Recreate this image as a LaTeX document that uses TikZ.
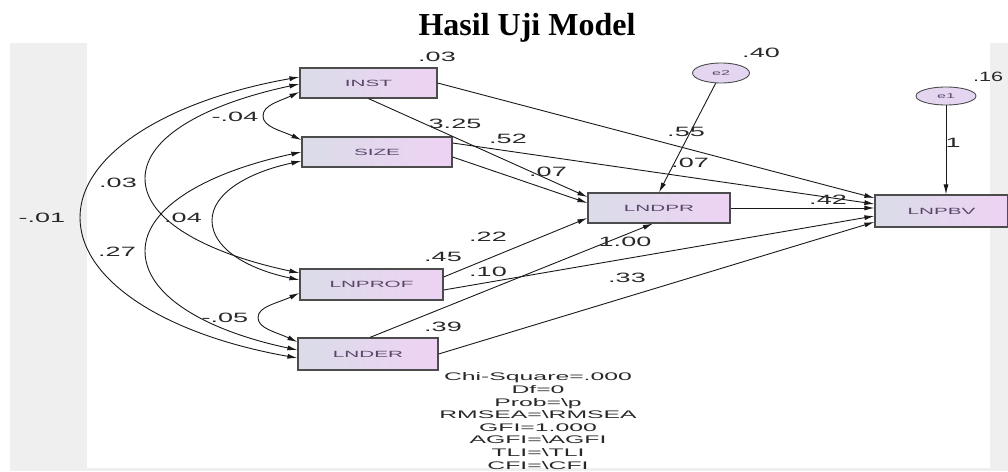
\documentclass[tikz,border=0pt]{standalone}
\usepackage{fontspec}
\setmainfont{Liberation Serif}
\newfontfamily\amosfont{Liberation Sans}
\usepackage{graphicx}
\usetikzlibrary{arrows.meta,calc,shapes.geometric}

\definecolor{boxleft}{RGB}{218,220,232}
\definecolor{boxright}{RGB}{238,210,244}
\definecolor{errfill}{RGB}{228,214,240}
\definecolor{panel}{RGB}{239,239,239}
\definecolor{numgray}{RGB}{40,40,40}
\definecolor{vartext}{RGB}{90,70,105}

\newcommand{\wide}[2][2.0]{\scalebox{#1}[1]{#2}}

\tikzset{
  var/.style={draw=black!70, line width=1.2pt, left color=boxleft, right color=boxright,
    minimum height=30pt, inner sep=0pt, text=vartext, font=\amosfont\fontsize{9}{9}\selectfont},
  err/.style={ellipse, draw=black!70, line width=0.9pt, fill=errfill, minimum width=57pt,
    minimum height=20pt, inner sep=0pt, text=vartext, font=\amosfont\fontsize{7}{7}\selectfont},
  reg/.style={draw=black!90, line width=0.9pt, -{Latex[length=10pt,width=5pt]}},
  cov/.style={draw=black!90, line width=0.9pt, {Latex[length=10pt,width=5pt]}-{Latex[length=10pt,width=5pt]}},
  est/.style={text=numgray, inner sep=0pt, font=\amosfont\fontsize{13.5}{13.5}\selectfont},
}

\begin{document}
\begin{tikzpicture}[x=1pt, y=1pt]
    \useasboundingbox (0,0) rectangle (1008,-471);
    % grey margins of the screenshot
    \fill[panel] (10,-43) rectangle (87,-470);
    \fill[panel] (990,-43) rectangle (1008,-470);
    \fill[panel] (10,-468) rectangle (1008,-471);

    \node[font=\bfseries\fontsize{32}{32}\selectfont, anchor=base] (title) at (527,-35) {Hasil Uji Model};

    % observed variables
    \node[var, minimum width=137pt] (INST) at (368.5,-83) {\wide[2.3]{INST}};
    \node[var, minimum width=150pt] (SIZE) at (377,-152) {\wide[2.3]{SIZE}};
    \node[var, minimum width=143pt, minimum height=31pt] (LNPROF) at (371.5,-284.5) {\wide[2.3]{LNPROF}};
    \node[var, minimum width=140pt, minimum height=32pt] (LNDER) at (368,-354) {\wide[2.3]{LNDER}};
    \node[var, minimum width=142pt] (LNDPR) at (659,-208) {\wide[2.3]{LNDPR}};
    \node[var, minimum width=133pt, minimum height=32pt] (LNPBV) at (941.5,-211) {\wide[2.3]{LNPBV}};

    % error terms
    \node[err] (e2) at (721,-73) {\wide[2.3]{e2}};
    \node[err, minimum width=60pt, minimum height=18pt] (e1) at (946,-96) {\wide[2.3]{e1}};

    % regression paths
    \draw[reg] (INST.south) -- ($(LNDPR.west)+(0,11)$);
    \draw[reg] ($(SIZE.east)+(0,-5)$) -- ($(LNDPR.west)+(0,5)$);
    \draw[reg] ($(LNPROF.east)+(0,7.5)$) -- ($(LNDPR.west)+(0,-10)$);
    \draw[reg] ($(LNDER.north)+(2,0)$) -- ($(LNDPR.south)+(-6,0)$);
    \draw[reg] (e2) -- (LNDPR.north);
    \draw[reg] (INST.east) -- ($(LNPBV.west)+(0,13)$);
    \draw[reg] ($(SIZE.east)+(0,9)$) -- ($(LNPBV.west)+(0,7)$);
    \draw[reg] (LNDPR.east) -- (LNDPR.east -| LNPBV.west);
    \draw[reg] ($(LNPROF.east)+(0,-5.5)$) -- ($(LNPBV.west)+(0,-5)$);
    \draw[reg] (LNDER.east) -- ($(LNPBV.west)+(0,-11)$);
    \draw[reg] (e1) -- (e1 |- LNPBV.north);

    % covariances
    \draw[cov] ($(INST.west)+(0,6)$) .. controls +(190:134) and +(90:63) .. (80,-217.5)
        .. controls +(-90:63) and +(170:134) .. ($(LNDER.west)+(0,-4)$);
    \draw[cov] ($(INST.west)+(0,-1)$) .. controls +(192:94) and +(90:42) .. (145,-178.5)
        .. controls +(-90:42) and +(168:94) .. ($(LNPROF.west)+(0,11.5)$);
    \draw[cov] (SIZE.west) .. controls +(192:95) and +(90:44) .. (145,-251)
        .. controls +(-90:44) and +(168:95) .. ($(LNDER.west)+(0,4)$);
    \draw[cov] ($(SIZE.west)+(0,-9)$) .. controls +(192:55) and +(90:27) .. (212,-220.5)
        .. controls +(-90:27) and +(168:55) .. ($(LNPROF.west)+(0,4.5)$);
    \draw[cov] ($(INST.west)+(0,-9)$) .. controls +(205:22) and +(90:11) .. (263,-116)
        .. controls +(-90:11) and +(155:22) .. ($(SIZE.west)+(0,12)$);
    \draw[cov] ($(LNPROF.west)+(0,-8.5)$) .. controls +(205:24) and +(90:11) .. (258,-317.5)
        .. controls +(-90:11) and +(155:24) .. ($(LNDER.west)+(0,12)$);

    % variances
    \node[est] (vINST) at (437,-57) {\wide{.03}};
    \node[est] (vSIZE) at (455,-124) {\wide{3.25}};
    \node[est] (vLNPROF) at (443,-257) {\wide{.45}};
    \node[est] (vLNDER) at (443,-327) {\wide{.39}};
    \node[est] (ve2) at (761,-53) {\wide{.40}};
    \node[est] (ve1) at (988,-77) {\wide[1.6]{.16}};

    % covariance estimates
    \node[est] (cInstSize) at (235,-117) {\wide{-.04}};
    \node[est] (cInstProf) at (118,-183) {\wide{.03}};
    \node[est] (cInstDer) at (42,-218) {\wide{-.01}};
    \node[est] (cSizeProf) at (183,-218) {\wide{.04}};
    \node[est] (cSizeDer) at (117,-252) {\wide{.27}};
    \node[est] (cProfDer) at (225,-318) {\wide{-.05}};

    % regression weights
    \node[est] (wSizePbv) at (508,-139) {\wide{.52}};
    \node[est] (wSizeDpr) at (548,-172) {\wide{.07}};
    \node[est] (wInstDpr) at (686,-132) {\wide{.55}};
    \node[est] (wInstPbv) at (690,-163) {\wide{.07}};
    \node[est] (wDprPbv) at (828,-200) {\wide{.42}};
    \node[est] (wProfDpr) at (488,-237) {\wide{.22}};
    \node[est] (wProfPbv) at (488,-272) {\wide{.10}};
    \node[est] (wDerDpr) at (625,-242) {\wide{1.00}};
    \node[est] (wDerPbv) at (627,-278) {\wide{.33}};
    \node[est] (wE1) at (953,-143) {\wide{1}};

    % fit summary
    \node[align=center, text=numgray, font=\amosfont\fontsize{11}{12.6}\selectfont] (fit) at (538,-421) {%
        \wide[2.25]{Chi-Square=.000}\\ \wide[2.25]{Df=0}\\ \wide[2.25]{Prob=\textbackslash p}\\
        \wide[2.25]{RMSEA=\textbackslash RMSEA}\\ \wide[2.25]{GFI=1.000}\\ \wide[2.25]{AGFI=\textbackslash AGFI}\\
        \wide[2.25]{TLI=\textbackslash TLI}\\ \wide[2.25]{CFI=\textbackslash CFI}};
\end{tikzpicture}
\end{document}
